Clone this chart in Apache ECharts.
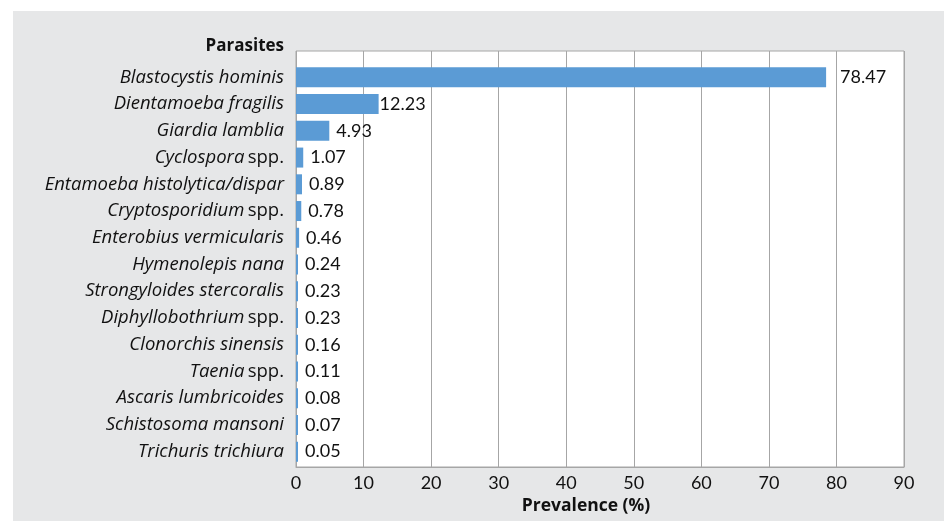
<!DOCTYPE html>
<html>
<head>
<meta charset="utf-8">
<script src="https://cdn.jsdelivr.net/npm/echarts@6/dist/echarts.min.js"></script>
<style>
  html, body { margin: 0; padding: 0; background: #fff; }
  #panel { position: absolute; left: 13px; top: 11px; width: 931px; height: 510px; background: #e6e7e8; }
  #chart { position: absolute; left: 0; top: 0; width: 944px; height: 521px; }
</style>
</head>
<body>
<div id="panel"></div>
<div id="chart"></div>
<script>
// parasite names: italic part + plain suffix
const genusNames = ['Blastocystis hominis', 'Dientamoeba fragilis', 'Giardia lamblia', 'Cyclospora',
  'Entamoeba histolytica/dispar', 'Cryptosporidium', 'Enterobius vermicularis', 'Hymenolepis nana',
  'Strongyloides stercoralis', 'Diphyllobothrium', 'Clonorchis sinensis', 'Taenia',
  'Ascaris lumbricoides', 'Schistosoma mansoni', 'Trichuris trichiura'];
const nameSuffix = ['', '', '', 'spp.', '', 'spp.', '', '', '', 'spp.', '', 'spp.', '', '', ''];
const prevalence = [78.47, 12.23, 4.93, 1.07, 0.89, 0.78, 0.46, 0.24, 0.23, 0.23, 0.16, 0.11, 0.08, 0.07, 0.05];
const xTicks = [0, 10, 20, 30, 40, 50, 60, 70, 80, 90];

const FONT = 'Lato';
const NAME_FONT = 'Open Sans';
const categories = genusNames.map((n, i) => n + '|' + nameSuffix[i]);

let myChart = echarts.init(document.getElementById('chart'));
let option = {
  animation: false,
  backgroundColor: 'transparent',
  title: {
    text: 'Parasites',
    right: 660,
    top: 38,
    padding: 0,
    textStyle: { fontFamily: NAME_FONT, fontSize: 17, fontWeight: 'bold', color: '#111' }
  },
  grid: [
    { left: 296, right: 40, top: 51, bottom: 54, show: true, backgroundColor: '#fff', borderColor: '#a6a6a6', borderWidth: 1 },
    { left: 296, right: 40, top: 64, bottom: 56 }
  ],
  xAxis: [
    {
      gridIndex: 0,
      type: 'value',
      min: xTicks[0],
      max: xTicks[xTicks.length - 1],
      interval: 10,
      axisLine: { show: true, lineStyle: { color: '#a6a6a6' } },
      axisTick: { show: false },
      splitLine: { show: true, lineStyle: { color: '#a6a6a6', width: 1 } },
      axisLabel: { fontFamily: FONT, fontSize: 18, color: '#111', margin: 7 },
      name: 'Prevalence (%)',
      nameLocation: 'middle',
      nameGap: 30,
      nameTextStyle: { fontFamily: NAME_FONT, fontSize: 17.5, fontWeight: 'bold', color: '#111', padding: [0, 28, 0, 0] }
    },
    { gridIndex: 1, type: 'value', min: 0, max: 90, show: false }
  ],
  yAxis: [
    { gridIndex: 0, type: 'value', show: false },
    {
      gridIndex: 1,
      type: 'category',
      inverse: true,
      data: categories,
      axisLine: { show: false },
      axisTick: { show: false },
      axisLabel: {
        margin: 12,
        interval: 0,
        formatter: function (v) {
          const parts = v.split('|');
          return parts[1] ? '{i|' + parts[0] + '} {n|' + parts[1] + '}' : '{i|' + parts[0] + '}';
        },
        rich: {
          i: { fontFamily: NAME_FONT, fontSize: 18.5, fontStyle: 'italic', color: '#111' },
          n: { fontFamily: NAME_FONT, fontSize: 18.5, color: '#111' }
        }
      }
    }
  ],
  series: [{
    type: 'bar',
    xAxisIndex: 1,
    yAxisIndex: 1,
    barWidth: 20,
    barMinHeight: 2,
    itemStyle: { color: '#5b9bd5' },
    label: {
      show: true,
      position: 'right',
      distance: 7,
      fontFamily: FONT,
      fontSize: 18,
      color: '#111'
    },
    data: prevalence.map((v, i) => i === 0 ? { value: v, label: { distance: 14 } } : (i === 1 ? { value: v, label: { distance: 1 } } : v))
  }]
};
option && myChart.setOption(option);
</script>
</body>
</html>
